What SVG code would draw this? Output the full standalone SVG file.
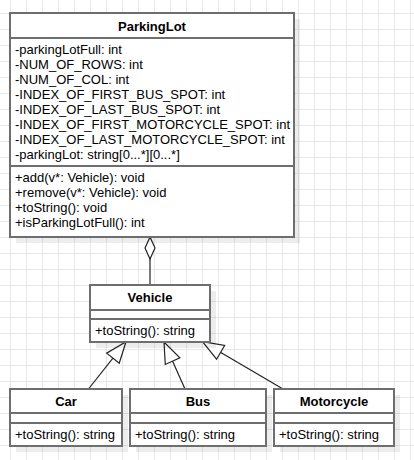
<svg xmlns="http://www.w3.org/2000/svg" width="414" height="460" viewBox="0 0 414 460">
<defs>
<pattern id="grid" patternUnits="userSpaceOnUse" x="10" y="13" width="16" height="16">
<path d="M0.5 0 V16 M0 0.5 H16" stroke="#e8e8e8" stroke-width="1" fill="none"/>
</pattern>
<marker id="tri" markerUnits="userSpaceOnUse" markerWidth="24" markerHeight="20" refX="22" refY="9" orient="auto" overflow="visible">
<path d="M22,9 L1,1 L1,17 Z" fill="#ffffff" stroke="#222" stroke-width="1.2"/>
</marker>
<marker id="dia" markerUnits="userSpaceOnUse" markerWidth="24" markerHeight="12" refX="22" refY="6" orient="auto" overflow="visible">
<path d="M22,6 L11,1 L0,6 L11,11 Z" fill="#ffffff" stroke="#222" stroke-width="1.2"/>
</marker>
</defs>
<style>
.box{fill:#ffffff;stroke:#6e6e6e;stroke-width:2}
.sh{fill:#000000;fill-opacity:0.07}
.sep{stroke:#6e6e6e;stroke-width:2}
.t{font-family:"Liberation Sans",Arial,sans-serif;font-size:13px;fill:#000}
.h{font-family:"Liberation Sans",Arial,sans-serif;font-size:13px;font-weight:bold;fill:#000;text-anchor:middle}
.c{stroke:#222;stroke-width:1.2;fill:none}
</style>
<rect width="414" height="460" fill="#ffffff"/>
<rect width="414" height="460" fill="url(#grid)"/>

<g id="connectors">
<line class="c" x1="150" y1="285" x2="150" y2="237" marker-end="url(#dia)"/>
<line class="c" x1="88.5" y1="389" x2="126" y2="341.7" marker-end="url(#tri)"/>
<line class="c" x1="185" y1="389" x2="164" y2="342" marker-end="url(#tri)"/>
<line class="c" x1="283" y1="389" x2="202.5" y2="341.7" marker-end="url(#tri)"/>
</g>

<g id="ParkingLot">
<rect class="sh" x="16" y="19" width="284" height="224"/>
<rect class="box" x="10" y="13" width="284" height="224"/>
<line class="sep" x1="10" y1="38" x2="294" y2="38"/>
<line class="sep" x1="10" y1="166" x2="294" y2="166"/>
<text class="h" x="152" y="31">ParkingLot</text>
<text class="t" x="15" y="53.5">-parkingLotFull: int</text>
<text class="t" x="15" y="68.5">-NUM_OF_ROWS: int</text>
<text class="t" x="15" y="83.5">-NUM_OF_COL: int</text>
<text class="t" x="15" y="98.5">-INDEX_OF_FIRST_BUS_SPOT: int</text>
<text class="t" x="15" y="113.5">-INDEX_OF_LAST_BUS_SPOT: int</text>
<text class="t" x="15" y="128.5">-INDEX_OF_FIRST_MOTORCYCLE_SPOT: int</text>
<text class="t" x="15" y="143.5">-INDEX_OF_LAST_MOTORCYCLE_SPOT: int</text>
<text class="t" x="15" y="158.5">-parkingLot: string[0...*][0...*]</text>
<text class="t" x="15" y="181.5">+add(v*: Vehicle): void</text>
<text class="t" x="15" y="196.5">+remove(v*: Vehicle): void</text>
<text class="t" x="15" y="211.5">+toString(): void</text>
<text class="t" x="15" y="226.5">+isParkingLotFull(): int</text>
</g>

<g id="Vehicle">
<rect class="sh" x="96" y="291" width="120" height="57"/>
<rect class="box" x="90" y="285" width="120" height="57"/>
<line class="sep" x1="90" y1="310" x2="210" y2="310"/>
<line class="sep" x1="90" y1="319" x2="210" y2="319"/>
<text class="h" x="150" y="302">Vehicle</text>
<text class="t" x="95" y="334.5">+toString(): string</text>
</g>

<g id="Car">
<rect class="sh" x="16" y="395" width="112" height="57"/>
<rect class="box" x="10" y="389" width="112" height="57"/>
<line class="sep" x1="10" y1="413" x2="122" y2="413"/>
<line class="sep" x1="10" y1="423" x2="122" y2="423"/>
<text class="h" x="66" y="406">Car</text>
<text class="t" x="15" y="439">+toString(): string</text>
</g>

<g id="Bus">
<rect class="sh" x="136" y="395" width="136" height="57"/>
<rect class="box" x="130" y="389" width="136" height="57"/>
<line class="sep" x1="130" y1="413" x2="266" y2="413"/>
<line class="sep" x1="130" y1="423" x2="266" y2="423"/>
<text class="h" x="198" y="406">Bus</text>
<text class="t" x="135" y="439">+toString(): string</text>
</g>

<g id="Motorcycle">
<rect class="sh" x="280" y="395" width="120" height="57"/>
<rect class="box" x="274" y="389" width="120" height="57"/>
<line class="sep" x1="274" y1="413" x2="394" y2="413"/>
<line class="sep" x1="274" y1="423" x2="394" y2="423"/>
<text class="h" x="334" y="406">Motorcycle</text>
<text class="t" x="279" y="439">+toString(): string</text>
</g>
</svg>
